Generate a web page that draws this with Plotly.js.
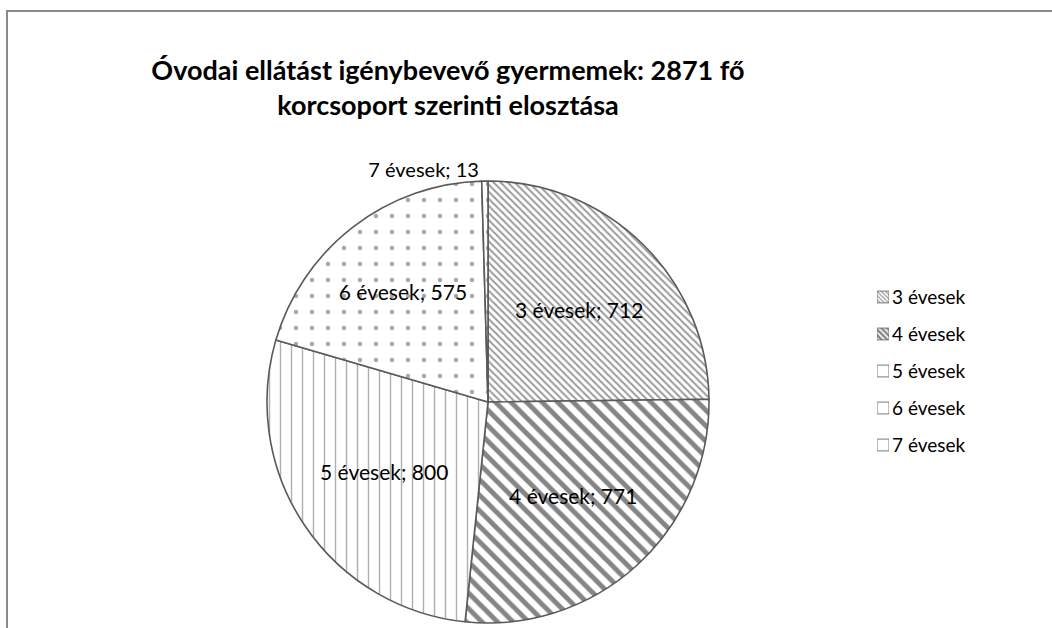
<!DOCTYPE html>
<html>
<head>
<meta charset="utf-8">
<script src="https://cdn.plot.ly/plotly-3.0.1.min.js"></script>
<style>
  html, body { margin: 0; padding: 0; background: #ffffff; overflow: hidden; }
  #chart { position: absolute; left: 0; top: 0; width: 1052px; height: 628px; }
  #frame { position: absolute; left: 6px; top: 10px; width: 1200px; height: 800px;
           border: 2px solid #8a8a8a; pointer-events: none; box-sizing: border-box; }
</style>
</head>
<body>
<div id="chart"></div>
<div id="frame"></div>
<script>
// ---- data ----
const categories = ["3 évesek", "4 évesek", "5 évesek", "6 évesek", "7 évesek"];
const values = [712, 771, 800, 575, 13];
const titleText = "Óvodai ellátást igénybevevő gyermemek: 2871 fő<br>korcsoport szerinti elosztása";

// ---- styles ----
const FONT = "Lato, 'Open Sans', sans-serif";
const patShapes = ["\\", "\\", "|", ".", "."];
const patFg = ["#9a9a9a", "#858585", "#b0b0b0", "#a8a8a8", "#a8a8a8"];
const patSize = [5, 11, 11, 16, 16];
const patSolid = [0.4, 0.45, 0.13, 0.06, 0.06];
const lineCol = "#5a5a5a";

const W = 1052, H = 628;
const cx = 488, cy = 402, R = 221;

const pie = {
  type: "pie",
  labels: categories,
  values: values,
  sort: false,
  direction: "clockwise",
  rotation: 0,
  showlegend: false,
  textinfo: "text",
  texttemplate: "%{label}; %{value}",
  textposition: ["inside", "inside", "inside", "inside", "outside"],
  insidetextorientation: "horizontal",
  textfont: { family: FONT, size: 21, color: "#000000" },
  outsidetextfont: { family: FONT, size: 20, color: "#000000" },
  hoverinfo: "label+value",
  marker: {
    colors: ["#ffffff", "#ffffff", "#ffffff", "#ffffff", "#ffffff"],
    line: { color: lineCol, width: 1.6 },
    pattern: {
      shape: patShapes,
      fgcolor: patFg,
      bgcolor: "#ffffff",
      size: patSize,
      solidity: patSolid,
      fillmode: "replace"
    }
  },
  domain: {
    x: [(cx - R) / W, (cx + R) / W],
    y: [1 - (cy + R) / H, 1 - (cy - R) / H]
  }
};

// legend drawn as a small bar column (icons) with category tick labels
const ones = categories.map(() => 1);
const legendBars = {
  type: "bar",
  orientation: "h",
  y: categories,
  x: ones,
  width: 0.32,
  xaxis: "x",
  yaxis: "y",
  showlegend: false,
  hoverinfo: "skip",
  marker: {
    color: "#ffffff",
    line: { color: "#7a7a7a", width: 1 },
    pattern: {
      shape: ["\\", "\\", "", "", ""],
      fgcolor: patFg,
      bgcolor: "#ffffff",
      size: [3, 4, 5, 5, 5],
      solidity: [0.4, 0.6, 0.2, 0.2, 0.2],
      fillmode: "replace"
    }
  }
};

const legRowTop = 297, legRowGap = 37;
const yTop = legRowTop - legRowGap / 2;
const yBot = legRowTop + legRowGap * (categories.length - 1) + legRowGap / 2;

const layout = {
  width: W, height: H,
  margin: { l: 0, r: 0, t: 0, b: 0 },
  paper_bgcolor: "#ffffff",
  plot_bgcolor: "rgba(0,0,0,0)",
  font: { family: FONT, color: "#000000" },
  title: {
    text: titleText,
    font: { family: FONT, size: 27, color: "#000000", weight: "bold" },
    x: 448 / W, xanchor: "center", xref: "paper",
    y: 1 - 80 / H, yanchor: "top", yref: "paper"
  },
  xaxis: {
    domain: [877 / W, 889 / W],
    range: [0, 1],
    visible: false,
    fixedrange: true
  },
  yaxis: {
    domain: [1 - yBot / H, 1 - yTop / H],
    type: "category",
    autorange: "reversed",
    side: "right",
    anchor: "x",
    showgrid: false, zeroline: false, showline: false,
    ticks: "",
    ticklabelstandoff: 2,
    tickfont: { family: FONT, size: 19, color: "#000000" },
    fixedrange: true
  },
  showlegend: false
};

Plotly.newPlot("chart", [pie, legendBars], layout, { displayModeBar: false, staticPlot: true });
</script>
</body>
</html>
